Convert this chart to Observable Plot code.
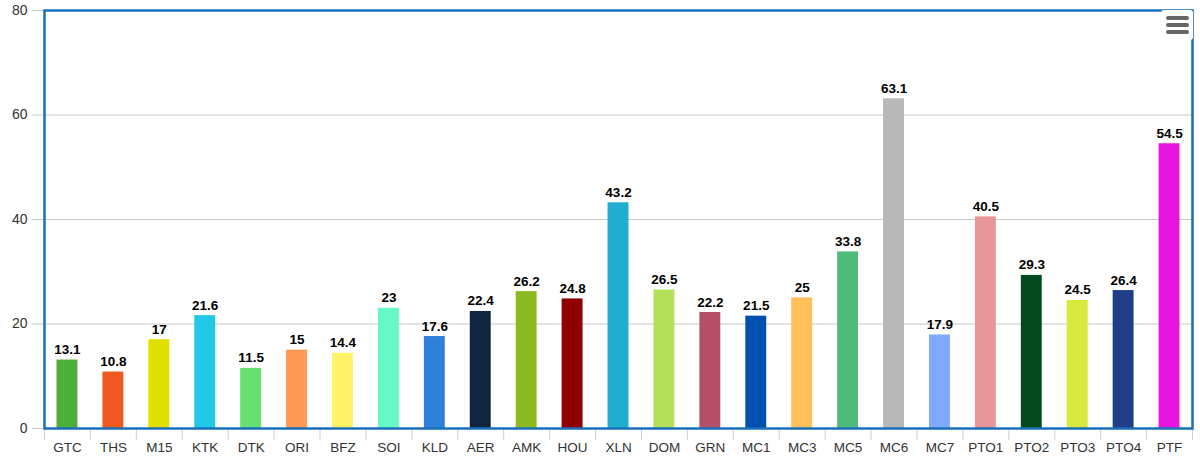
<!DOCTYPE html>
<html>
<head>
<meta charset="utf-8">
<script src="https://cdn.jsdelivr.net/npm/d3@7"></script>
<script src="https://cdn.jsdelivr.net/npm/@observablehq/plot@0.6"></script>
<style>
  html, body { margin: 0; padding: 0; background: #fff; }
  #wrap { position: relative; width: 1200px; height: 470px; }
  #menu { position: absolute; left: 1161px; top: 10px; width: 32px; height: 30px; background: #fff; border-radius: 3px; }
  #menu span { position: absolute; left: 5px; width: 23px; height: 3.5px; background: #666; border-radius: 2px; }
</style>
</head>
<body>
<div id="wrap">
  <div id="chart"></div>
  <div id="menu"><span style="top:6px"></span><span style="top:13px"></span><span style="top:20px"></span></div>
</div>
<script>
const sets = ["GTC","THS","M15","KTK","DTK","ORI","BFZ","SOI","KLD","AER","AMK","HOU","XLN","DOM","GRN","MC1","MC3","MC5","MC6","MC7","PTO1","PTO2","PTO3","PTO4","PTF"];
const values = [13.1,10.8,17,21.6,11.5,15,14.4,23,17.6,22.4,26.2,24.8,43.2,26.5,22.2,21.5,25,33.8,63.1,17.9,40.5,29.3,24.5,26.4,54.5];
const colors = ["#4caf37","#f0591f","#e0df00","#22c9e6","#66e06e","#ff9955","#fff266","#66f9c6","#2f80d8","#0f243e","#8abc22","#900000","#1faecf","#b4e05a","#b34f66","#0050b0","#ffc05a","#4fbb78","#b8b8b8","#80aaff","#e89698","#034a1e","#d8e83c","#203f88","#e815e0"];
const yTicks = [0,20,40,60,80];

const data = sets.map((s, i) => ({set: s, value: values[i]}));

const W = 1200, ML = 44, MR = 8;
const step = (W - ML - MR) / sets.length;
const font = "'Liberation Sans', Arial, sans-serif";

const chart = Plot.plot({
  width: W,
  height: 470,
  marginLeft: ML,
  marginRight: MR,
  marginTop: 10,
  marginBottom: 42,
  style: {fontFamily: font, background: "#fff"},
  x: {domain: sets, padding: 0, round: false, label: null},
  y: {domain: [0, 80], label: null},
  color: {domain: sets, range: colors},
  marks: [
    Plot.gridY(yTicks, {stroke: "#c8c8c8", strokeOpacity: 1, strokeWidth: 1}),
    Plot.axisY(yTicks, {tickSize: 12, tickPadding: 5, stroke: "#c8c8c8", fontSize: 14, fill: "#333", label: null}),
    Plot.axisX({tickSize: 0, tickPadding: 14, fontSize: 13.5, fill: "#333", label: null}),
    Plot.ruleX(sets, {x: d => d, y1: 0, y2: 0, dx: -step / 2, stroke: "#c8d2e0", insetBottom: -12}),
    Plot.ruleX([sets[sets.length - 1]], {x: d => d, y1: 0, y2: 0, dx: step / 2, stroke: "#c8d2e0", insetBottom: -12}),
    Plot.barY(data, {x: "set", y: "value", fill: "set", insetLeft: 12.5, insetRight: 12.5}),
    Plot.text(data, {x: "set", y: "value", text: d => String(d.value), dy: -6, lineAnchor: "bottom", fontWeight: "bold", fontSize: 13.5, fill: "#000"}),
    Plot.frame({stroke: "#1a6fba", strokeWidth: 2.5})
  ]
});
document.getElementById("chart").appendChild(chart);
</script>
</body>
</html>
